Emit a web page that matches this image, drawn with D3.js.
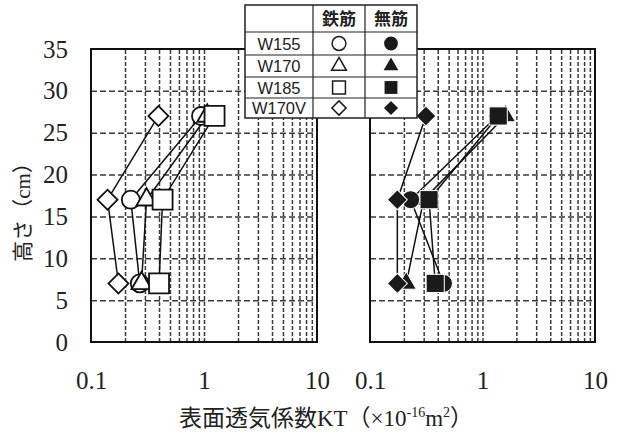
<!DOCTYPE html>
<html>
<head>
<meta charset="utf-8">
<script src="https://cdn.jsdelivr.net/npm/d3@7"></script>
<style>
  body { margin: 0; background: #fff; }
  text { fill: #222; }
</style>
</head>
<body>
<svg width="617" height="435"></svg>
<script>
// heights (cm) and KT values
var heights = [7, 17, 27];
var seriesNames = ["W155", "W170", "W185", "W170V"];

// 鉄筋 (open marks, left)
var rebarW155 = [0.27, 0.225, 0.94];
var rebarW170 = [0.28, 0.31, 1.07];
var rebarW185 = [0.40, 0.43, 1.24];
var rebarW170V = [0.175, 0.14, 0.395];

// 無筋 (filled marks, right)
var plainW155 = [0.45, 0.23, 1.35];
var plainW170 = [0.21, 0.30, 1.6];
var plainW185 = [0.38, 0.335, 1.38];
var plainW170V = [0.175, 0.175, 0.314];

var yTicks = [0, 5, 10, 15, 20, 25, 30, 35];
var xTicks = [0.1, 1, 10];
var xGrid = [0.2, 0.3, 0.4, 0.5, 0.6, 0.7, 0.8, 0.9, 1, 2, 3, 4, 5, 6, 7, 8, 9];

var svg = d3.select("svg");
var serif = "Times New Roman, Liberation Serif";
var cjk = "Times New Roman, Liberation Serif, Noto Sans CJK JP";

var y = d3.scaleLinear().domain([0, 35]).range([342, 49]);

var symbols = {
    W155: { type: d3.symbolCircle, size: 254, rot: 0 },
    W170: { type: d3.symbolTriangle, size: 175, rot: 0 },
    W185: { type: d3.symbolSquare, size: 400, rot: 0 },
    W170V: { type: d3.symbolSquare, size: 200, rot: 45 }
};

function drawPanel(x0, x1, data, filled, order) {
    var x = d3.scaleLog().domain([0.1, 10]).range([x0, x1]);
    var g = svg.append("g");

    // grid
    g.append("g")
        .attr("transform", "translate(0," + y(0) + ")")
        .call(d3.axisBottom(x).tickValues(xGrid).tickSize(-(y(0) - y(35))).tickFormat(""))
        .call(function(a) {
            a.select(".domain").remove();
            a.selectAll("line").attr("stroke", "#3a3a3a").attr("stroke-width", 1.5)
                .attr("stroke-dasharray", "4,2");
        });
    g.append("g")
        .attr("transform", "translate(" + x0 + ",0)")
        .call(d3.axisLeft(y).tickValues([5, 10, 15, 20, 25, 30]).tickSize(-(x1 - x0)).tickFormat(""))
        .call(function(a) {
            a.select(".domain").remove();
            a.selectAll("line").attr("stroke", "#3a3a3a").attr("stroke-width", 1.5)
                .attr("stroke-dasharray", "6,3");
        });

    // frame
    g.append("rect")
        .attr("x", x0).attr("y", y(35))
        .attr("width", x1 - x0).attr("height", y(0) - y(35))
        .attr("fill", "none").attr("stroke", "#111").attr("stroke-width", 2);

    // x tick labels
    g.append("g")
        .attr("transform", "translate(0," + y(0) + ")")
        .call(d3.axisBottom(x).tickValues(xTicks).tickSize(0).tickPadding(29)
            .tickFormat(function(d) { return d < 1 ? "0.1" : String(d); }))
        .call(function(a) {
            a.select(".domain").remove();
            a.attr("font-family", serif).attr("font-size", 25);
            a.selectAll("text").attr("fill", "#222");
        });

    // lines
    var line = d3.line()
        .x(function(d) { return x(d[0]); })
        .y(function(d) { return y(d[1]); });
    seriesNames.forEach(function(name) {
        var pts = data[name].map(function(v, i) { return [v, heights[i]]; });
        g.append("path").attr("d", line(pts))
            .attr("fill", "none").attr("stroke", "#111").attr("stroke-width", 1.5);
    });

    // markers
    order.forEach(function(name) {
        var s = symbols[name];
        var sz = filled && name == "W185" ? 330 : s.size;
        g.selectAll(null)
            .data(data[name])
            .enter()
            .append("path")
            .attr("d", d3.symbol().type(s.type).size(sz))
            .attr("transform", function(d, i) {
                return "translate(" + x(d) + "," + y(heights[i]) + ") rotate(" + s.rot + ")";
            })
            .attr("fill", filled ? "#1a1a1a" : "#fff")
            .attr("stroke", filled ? "#fff" : "#111")
            .attr("stroke-width", filled ? 1 : 1.8);
    });
}

drawPanel(91, 317, { W155: rebarW155, W170: rebarW170, W185: rebarW185, W170V: rebarW170V },
    false, ["W170V", "W155", "W170", "W185"]);
drawPanel(370, 595, { W155: plainW155, W170: plainW170, W185: plainW185, W170V: plainW170V },
    true, ["W170", "W155", "W185", "W170V"]);

// y labels
svg.append("g")
    .attr("transform", "translate(70,0)")
    .call(d3.axisLeft(y).tickValues(yTicks).tickSize(0).tickPadding(2))
    .call(function(a) {
        a.select(".domain").remove();
        a.attr("font-family", serif).attr("font-size", 25);
        a.selectAll("text").attr("fill", "#222");
    });

// y title
svg.append("text")
    .attr("transform", "translate(30,207) rotate(-90)")
    .attr("text-anchor", "middle")
    .style("font-family", cjk).style("font-size", "21px")
    .text("高さ（cm）");

// x title
var xt = svg.append("text")
    .attr("x", 326).attr("y", 426)
    .attr("text-anchor", "middle")
    .style("font-family", cjk).style("font-size", "23px");
xt.append("tspan").text("表面透気係数KT（×10");
xt.append("tspan").style("font-size", "14px").attr("dy", -9).text("-16");
xt.append("tspan").attr("dy", 9).text("m");
xt.append("tspan").style("font-size", "14px").attr("dy", -9).text("2");
xt.append("tspan").attr("dy", 9).text("）");

// legend table
var lg = svg.append("g");
var colX = [245, 313, 365, 417];
var rowY = [5, 32, 55, 77, 98, 118];
lg.append("rect").attr("x", colX[0]).attr("y", rowY[0])
    .attr("width", colX[3] - colX[0]).attr("height", rowY[5] - rowY[0])
    .attr("fill", "#fff").attr("stroke", "#222").attr("stroke-width", 1.5);
colX.slice(1, 3).forEach(function(cx) {
    lg.append("line").attr("x1", cx).attr("x2", cx).attr("y1", rowY[0]).attr("y2", rowY[5])
        .attr("stroke", "#222").attr("stroke-width", 1.2);
});
rowY.slice(1, 5).forEach(function(ry) {
    lg.append("line").attr("x1", colX[0]).attr("x2", colX[3]).attr("y1", ry).attr("y2", ry)
        .attr("stroke", "#222").attr("stroke-width", 1.2);
});
var sans = "Liberation Sans";
["鉄筋", "無筋"].forEach(function(t, i) {
    lg.append("text").attr("x", (colX[i + 1] + colX[i + 2]) / 2).attr("y", 25)
        .attr("text-anchor", "middle").style("font-family", "Noto Sans CJK JP")
        .style("font-size", "17px").attr("font-weight", "bold").attr("fill", "#333").text(t);
});
var legSizes = { W155: 150, W170: 95, W185: 165, W170V: 100 };
seriesNames.forEach(function(name, i) {
    var cy = (rowY[i + 1] + rowY[i + 2]) / 2;
    lg.append("text").attr("x", (colX[0] + colX[1]) / 2).attr("y", cy + 6)
        .attr("text-anchor", "middle").style("font-family", sans).style("font-size", "16.5px")
        .text(name);
    var s = symbols[name];
    [0, 1].forEach(function(k) {
        lg.append("path")
            .attr("d", d3.symbol().type(s.type).size(legSizes[name]))
            .attr("transform", "translate(" + ((colX[k + 1] + colX[k + 2]) / 2) + "," + cy + ") rotate(" + s.rot + ")")
            .attr("fill", k ? "#1a1a1a" : "#fff")
            .attr("stroke", "#1a1a1a").attr("stroke-width", k ? 0 : 1.5);
    });
});
</script>
</body>
</html>
